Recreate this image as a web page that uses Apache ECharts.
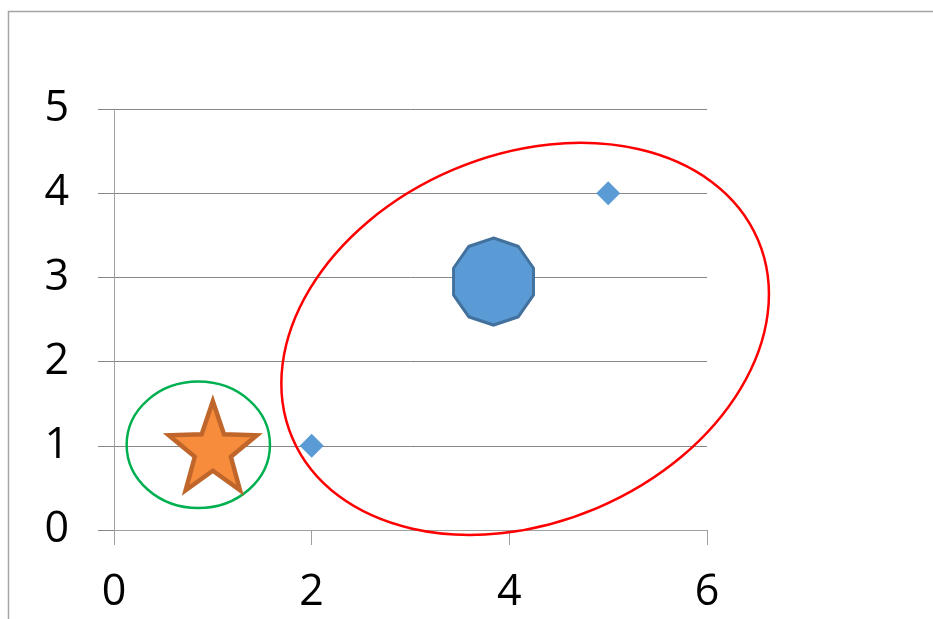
<!DOCTYPE html>
<html>
<head>
<meta charset="utf-8">
<script src="https://cdn.jsdelivr.net/npm/echarts@6/dist/echarts.min.js"></script>
<style>
  html, body { margin: 0; padding: 0; background: #fff; }
  #chart { width: 933px; height: 619px; }
</style>
</head>
<body>
<div id="chart"></div>
<script>
// Axis ranges and tick steps
const xRange = [0, 6];
const xStep = 2;
const yRange = [0, 5];
const yStep = 1;

// Small diamond markers [x, y]
const diamondPoints = [[2, 1], [5, 4]];
// Decagon marker [x, y]
const decagonPoints = [[3.84, 2.95]];
// Star marker [x, y]
const starPoints = [[1, 1]];

// Outline ellipses: [centerX, centerY, semiAxisA, semiAxisB, tiltDegrees]
// (semi-axes given in x-axis units)
const greenEllipse = [[0.853, 1.012, 0.725, 0.64, 0]];
const redEllipse = [[4.16, 2.27, 2.56, 1.86, 23]];

// Build a closed polygon path (optionally star-shaped) for a path:// symbol
function polygonPath(points, outer, inner) {
  const n = inner ? points * 2 : points;
  const step = (Math.PI * 2) / n;
  let d = '';
  for (let i = 0; i < n; i++) {
    const r = inner && i % 2 === 1 ? inner : outer;
    const a = -Math.PI / 2 + i * step;
    const px = (100 + r * Math.cos(a)).toFixed(2);
    const py = (100 + r * Math.sin(a)).toFixed(2);
    d += (i === 0 ? 'M' : 'L') + px + ',' + py + ' ';
  }
  return 'path://' + d + 'Z';
}

const decagonSymbol = polygonPath(10, 100);
const starSymbol = polygonPath(5, 100, 41);

function ellipseRenderer(color) {
  return function (params, api) {
    const c = api.coord([api.value(0), api.value(1)]);
    const unit = api.size([1, 1]);
    return {
      type: 'group',
      x: c[0],
      y: c[1],
      rotation: api.value(4) * Math.PI / 180,
      children: [{
        type: 'ellipse',
        shape: { cx: 0, cy: 0, rx: api.value(2) * unit[0], ry: api.value(3) * unit[0] },
        style: { fill: 'none', stroke: color, lineWidth: 2.5 }
      }]
    };
  };
}

const labelFont = {
  color: '#000',
  fontFamily: 'Open Sans',
  fontSize: 43
};

const chart = echarts.init(document.getElementById('chart'), null, { renderer: 'canvas' });

chart.setOption({
  animation: false,
  backgroundColor: '#fff',
  graphic: [{
    type: 'rect',
    left: 6,
    top: 9,
    shape: { width: 1200, height: 900 },
    style: { fill: 'none', stroke: '#a5a5a5', lineWidth: 1.5 },
    silent: true
  }],
  grid: { left: 114, right: 226, top: 109, bottom: 89, containLabel: false },
  xAxis: {
    type: 'value',
    min: xRange[0],
    max: xRange[1],
    interval: xStep,
    axisLine: { show: true, onZero: true, lineStyle: { color: '#a0a0a0', width: 1 } },
    axisTick: { show: true, inside: false, length: 15, lineStyle: { color: '#a0a0a0', width: 1 } },
    splitLine: { show: false },
    axisLabel: Object.assign({ margin: 41 }, labelFont)
  },
  yAxis: {
    type: 'value',
    min: yRange[0],
    max: yRange[1],
    interval: yStep,
    axisLine: { show: true, lineStyle: { color: '#a0a0a0', width: 1 } },
    axisTick: { show: true, inside: false, length: 16, lineStyle: { color: '#868686', width: 1 } },
    splitLine: { show: true, lineStyle: { color: '#868686', width: 1 } },
    axisLabel: Object.assign({ margin: 45 }, labelFont)
  },
  series: [
    {
      type: 'custom',
      name: 'green ring',
      renderItem: ellipseRenderer('#00b050'),
      data: greenEllipse,
      clip: false,
      z: 3
    },
    {
      type: 'custom',
      name: 'red ring',
      renderItem: ellipseRenderer('#ff0000'),
      data: redEllipse,
      clip: false,
      z: 3
    },
    {
      type: 'scatter',
      name: 'diamonds',
      symbol: 'diamond',
      symbolSize: 24,
      itemStyle: { color: '#5b9bd5', opacity: 1 },
      data: diamondPoints,
      z: 4
    },
    {
      type: 'scatter',
      name: 'decagon',
      symbol: decagonSymbol,
      symbolSize: [80, 87],
      itemStyle: { color: '#5b9bd5', borderColor: '#41719c', borderWidth: 3, opacity: 1 },
      data: decagonPoints,
      z: 4
    },
    {
      type: 'scatter',
      name: 'star',
      symbol: starSymbol,
      symbolSize: [88, 89],
      itemStyle: { color: '#f68c3c', borderColor: '#c0662a', borderWidth: 4.5, opacity: 1 },
      data: starPoints,
      z: 4
    }
  ]
});
</script>
</body>
</html>
